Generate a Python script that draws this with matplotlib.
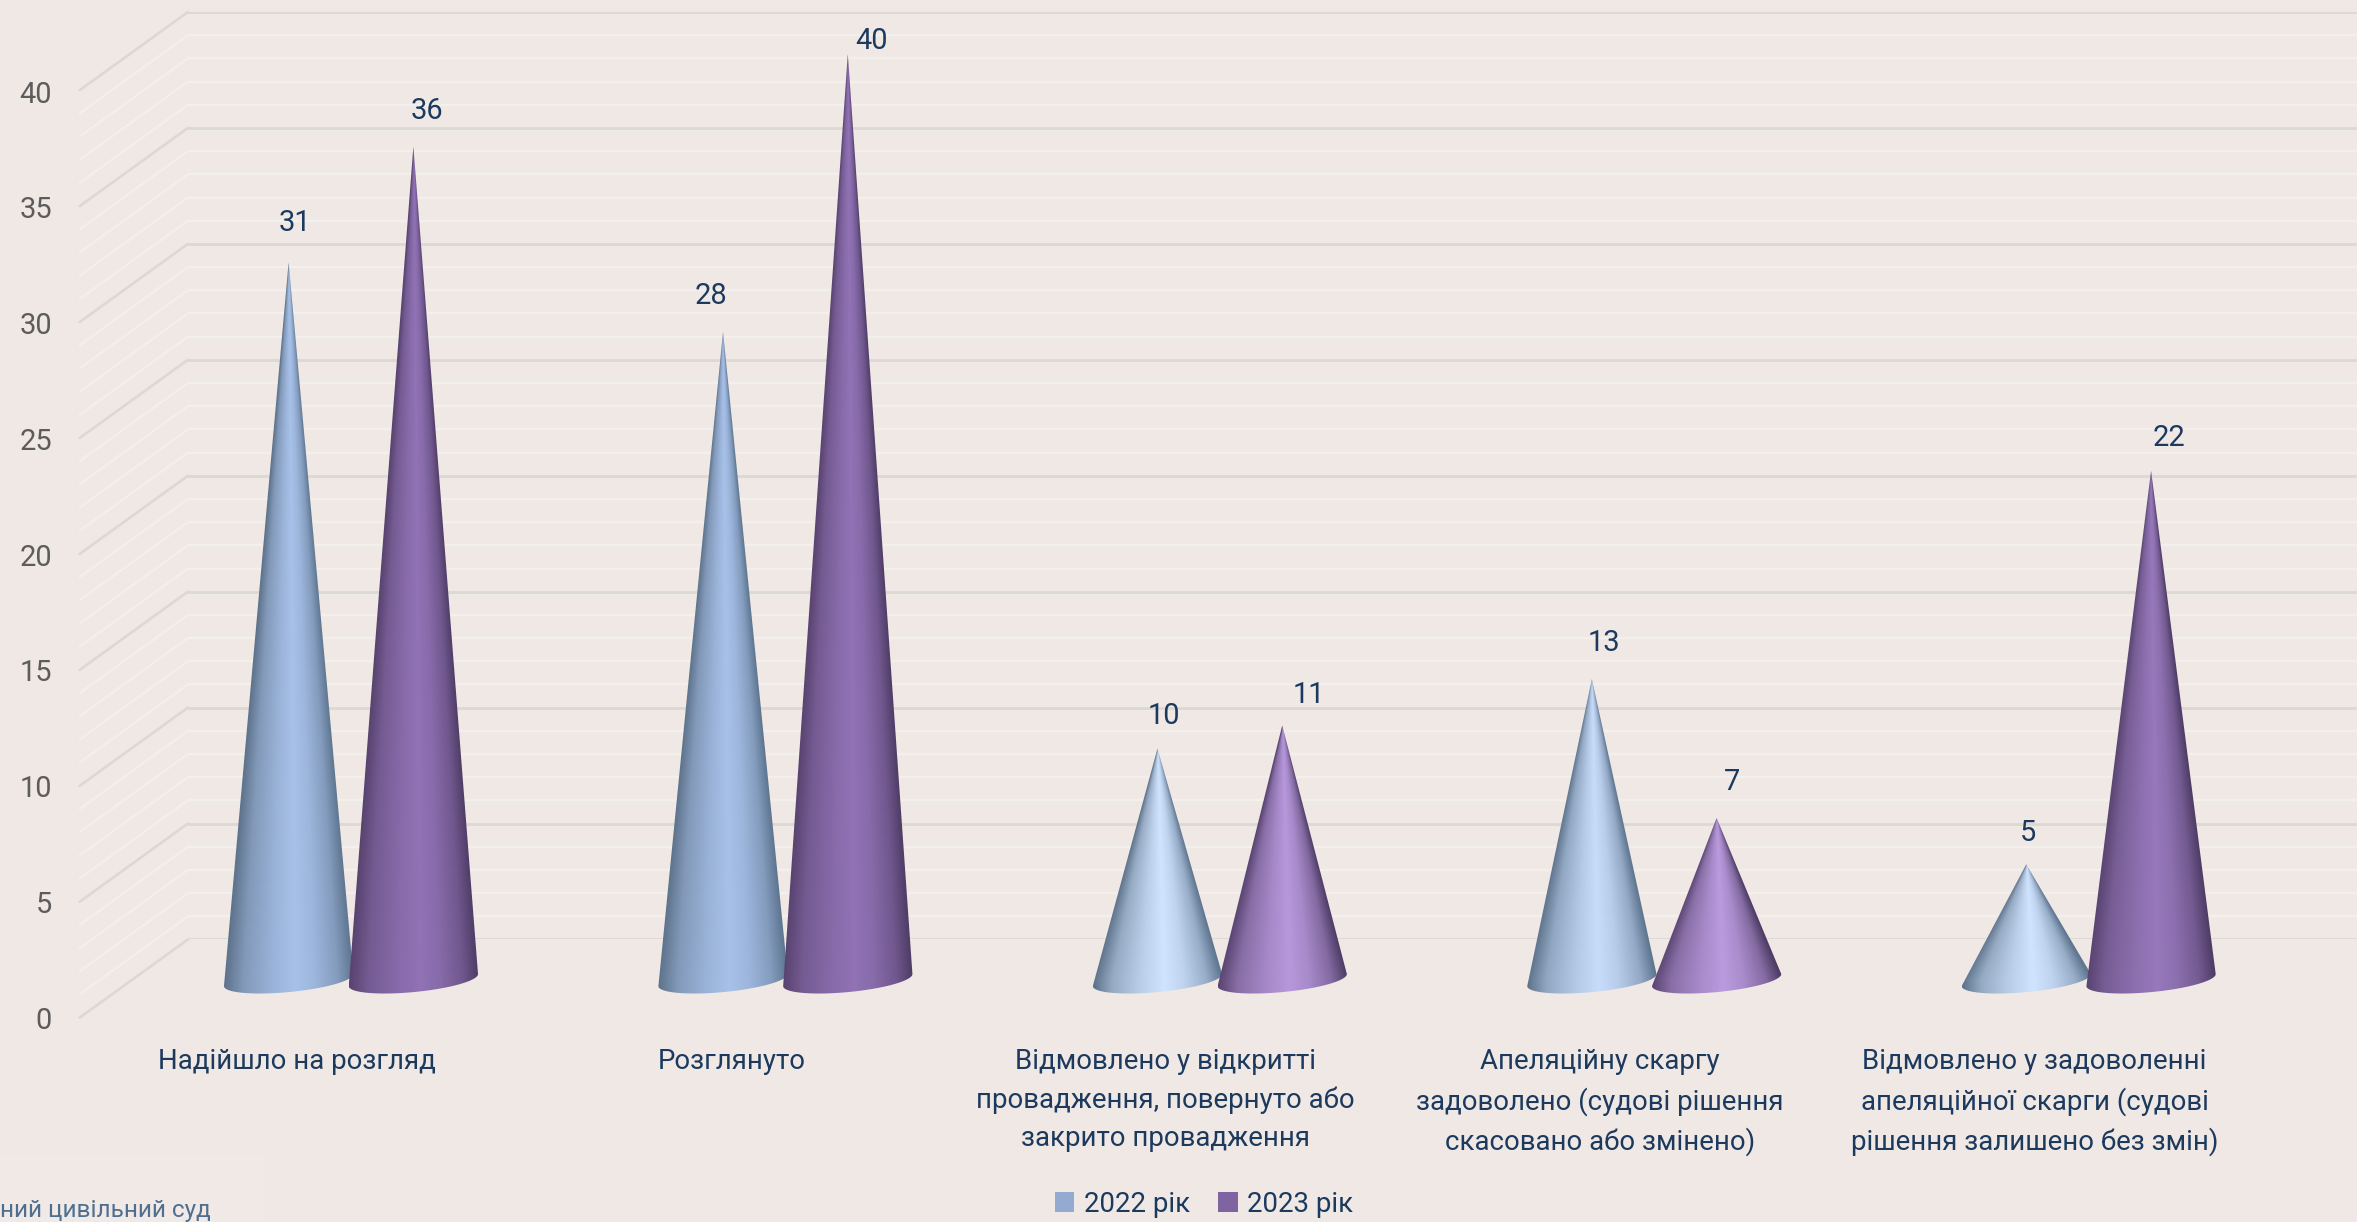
import numpy as np
import matplotlib
matplotlib.use('Agg')
import matplotlib.pyplot as plt
from matplotlib.patches import Patch, Rectangle
from matplotlib.path import Path
from matplotlib.ticker import MultipleLocator
from matplotlib.colors import to_rgb

# ---- data -------------------------------------------------------------
categories = [
    'Надійшло на розгляд',
    'Розглянуто',
    'Відмовлено у відкритті\nпровадження, повернуто або\nзакрито провадження',
    'Апеляційну скаргу\nзадоволено (судові рішення\nскасовано або змінено)',
    'Відмовлено у задоволенні\nапеляційної скарги (судові\nрішення залишено без змін)',
]
values_2022 = [31, 28, 10, 13, 5]
values_2023 = [36, 40, 11, 7, 22]
series_names = ['2022 рік', '2023 рік']
y_ticks = [0, 5, 10, 15, 20, 25, 30, 35, 40]

# ---- layout (reference is described in a 1568-wide view) ---------------
W, H = 2357, 1222
S = W / 1568
BG = '#f0e8e4'
NAVY = '#1c3a5e'
FONT = 'Roboto'
LABEL_SIZE = 19.9
MAJOR_C, MINOR_C = '#dbd9d4', '#f1f0ec'


def axes_rect(left, y0, y40, width=1445):
    return [left / 1568, 1 - y0 * S / H, width / 1568, (y0 - y40) * S / H]


fig = plt.figure(figsize=(W / 100, H / 100), dpi=100, facecolor=BG)
plt.rcParams['font.family'] = [FONT, 'DejaVu Sans']

fig.add_artist(Rectangle((0, 0), 175 / 1568, 43 * S / H, transform=fig.transFigure,
                         facecolor='#f1e9e5', edgecolor='none'))

# back wall: gridlines and depth lines
back = fig.add_axes(axes_rect(125, 625, 8), facecolor='none', zorder=1)
back.set_xlim(0, 1)
back.set_ylim(0, 40)
back.yaxis.set_major_locator(MultipleLocator(5))
back.yaxis.set_minor_locator(MultipleLocator(1))
back.set_xticks([])
back.tick_params(axis='y', which='both', length=0, labelleft=False)
for sp in back.spines.values():
    sp.set_visible(False)
back.grid(True, axis='y', which='minor', color=MINOR_C, lw=1.7, zorder=1)
back.grid(True, axis='y', which='major', color=MAJOR_C, lw=2.0, zorder=1)
back.set_axisbelow(True)
depth_x = -72 / 1445
depth_y = -52 / 15.42
for v in range(0, 41):
    major = v % 5 == 0
    back.plot([depth_x, 0], [v + depth_y, v], clip_on=False,
              color=MAJOR_C if major else MINOR_C, lw=1.9 if major else 1.6,
              solid_capstyle='round')

# front plane: tick labels
front = fig.add_axes(axes_rect(53, 677, 61), facecolor='none', zorder=2)
front.set_xlim(-0.5, 4.5)
front.set_ylim(0, 40)
front.set_yticks(y_ticks)
front.set_xticks(range(len(categories)))
front.set_xticklabels(categories, color=NAVY, fontsize=LABEL_SIZE,
                      linespacing=1.52, family=['Roboto', 'DejaVu Sans'])
front.tick_params(axis='y', length=0, pad=20, labelsize=LABEL_SIZE + 1, labelcolor='#5c5c5c')
front.tick_params(axis='x', length=0, pad=22)
for sp in front.spines.values():
    sp.set_visible(False)

# cone plane
ax = fig.add_axes(axes_rect(89, 652, 36), facecolor='none', zorder=3)
ax.set_xlim(-0.5, 4.5)
ax.set_ylim(0, 40)
ax.axis('off')

OFFSET = 41.5 / 289
HALF = 43 / 289
PX_UNIT = 15.4
BASE_B = 8 / PX_UNIT
BASE_K = 4 / PX_UNIT


def mix(a, b, t):
    return np.array(to_rgb(a)) * (1 - t) + np.array(to_rgb(b)) * t


def cone(cx, value, edge_l, edge_r, mid_tall, mid_short, z):
    t = np.clip((24 - value) / 14, 0, 1)
    mid = mix(mid_tall, mid_short, t)
    stops_u = [-1.0, -0.7, -0.25, 0.1, 0.4, 0.75, 1.0]
    stops_c = np.array([to_rgb(edge_l), mix(edge_l, mid, 0.5), mix(edge_l, mid, 0.82), mid,
                        mix(edge_r, mid, 0.85), mix(edge_r, mid, 0.5), to_rgb(edge_r)])
    ny, nx = 500, 260
    ys = np.linspace(value, -1.0, ny)
    xs = np.linspace(-HALF, HALF, nx)
    X, Y = np.meshgrid(xs, ys)
    width = np.maximum(HALF * (1 - np.maximum(Y, 0) / value), 1e-4)
    U = np.clip(X / width, -1, 1)
    img = np.dstack([np.interp(U, stops_u, stops_c[:, i]) for i in range(3)])
    im = ax.imshow(img, extent=(cx - HALF, cx + HALF, -1.0, value), aspect='auto',
                   zorder=z, interpolation='bilinear')
    tt = np.linspace(np.pi, 2 * np.pi, 60)
    bx = cx + HALF * np.cos(tt)
    by = BASE_B * np.sin(tt) + BASE_K * np.cos(tt)
    verts = [(cx, value)] + list(zip(bx, by)) + [(cx, value)]
    codes = [Path.MOVETO] + [Path.LINETO] * 60 + [Path.CLOSEPOLY]
    im.set_clip_path(Path(verts, codes), transform=ax.transData)
    im.set_clip_box(fig.bbox)


xpos = np.arange(len(categories))
for i in xpos:
    cone(i - OFFSET, values_2022[i], '#5c7189', '#5f7691', '#a8c1e9', '#d0e4ff', 5 + i)
    cone(i + OFFSET, values_2023[i], '#58436f', '#4f3c66', '#9173b6', '#ba9bdf', 5.5 + i)
ax.set_xlim(-0.5, 4.5)
ax.set_ylim(0, 40)

# value labels: pixel nudges in the 1568-wide view
nudges_2022 = [(4, 26), (-8, 24), (4, 22), (8, 24), (1, 21)]
nudges_2023 = [(9, 24), (16, 9), (18, 20), (10, 24), (12, 22)]
for vals, nudges, sgn in ((values_2022, nudges_2022, -1), (values_2023, nudges_2023, 1)):
    for i, (v, n) in enumerate(zip(vals, nudges)):
        ax.annotate(str(v), (i + sgn * OFFSET, v), xytext=(n[0] * S, n[1] * S),
                    textcoords='offset pixels', ha='center', va='center', color=NAVY,
                    fontsize=LABEL_SIZE + 1, annotation_clip=False, zorder=20)

# legend
handles = [Patch(facecolor='#95aad0', label=series_names[0]),
           Patch(facecolor='#8064a2', label=series_names[1])]
fig.legend(handles=handles, loc='center', bbox_to_anchor=(801 / 1568, 1 - 801 * S / H),
           ncol=2, frameon=False, labelcolor=NAVY, handlelength=0.72, handleheight=0.72,
           handletextpad=0.35, columnspacing=1.0,
           prop={'family': 'Roboto', 'size': LABEL_SIZE})

fig.text(0, 1 - 805 * S / H, 'ний цивільний суд', color='#4f6f90', fontsize=17.6,
         ha='left', va='center')

fig.savefig('out.png', dpi=100, facecolor=BG)
